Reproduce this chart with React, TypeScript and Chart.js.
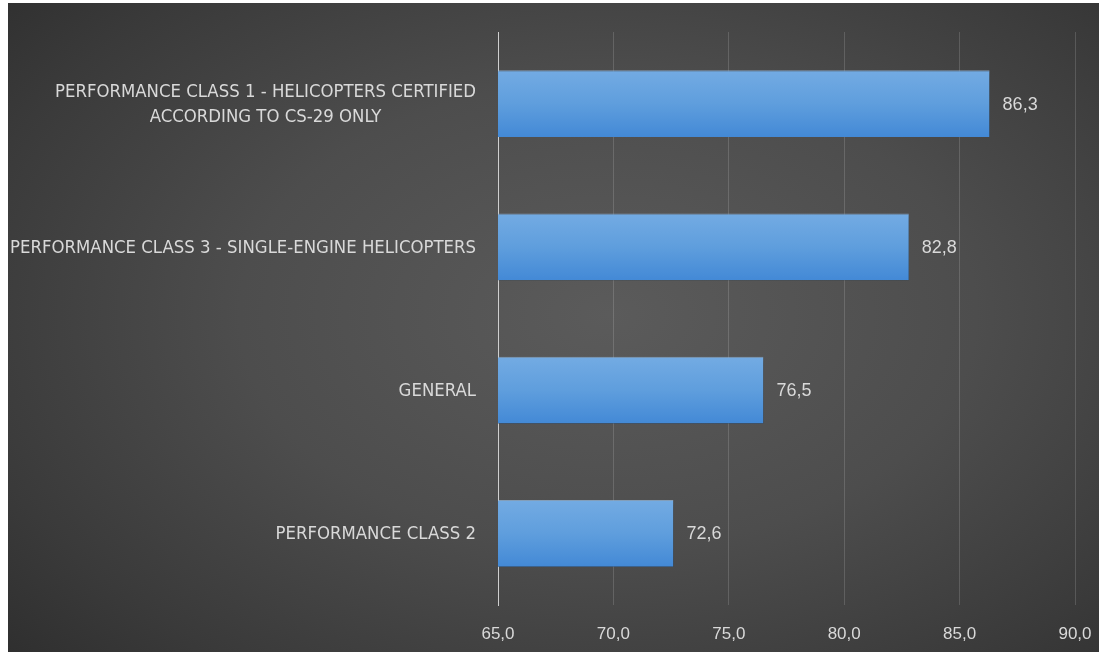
import React, { useEffect, useRef } from "react";
import { Chart, registerables } from "chart.js";

Chart.register(...registerables);

const categories: (string | string[])[] = [
  ["PERFORMANCE CLASS 1 - HELICOPTERS CERTIFIED", "ACCORDING TO CS-29 ONLY"],
  "PERFORMANCE CLASS 3 - SINGLE-ENGINE HELICOPTERS",
  "GENERAL",
  "PERFORMANCE CLASS 2",
];
const values = [86.3, 82.8, 76.5, 72.6];
const xMin = 65;
const xMax = 90;
const xStep = 5;

const FONT = '"Liberation Sans Narrow", "DejaVu Sans Condensed", "Roboto", sans-serif';
const NUMFONT = '"Liberation Sans", Arial, sans-serif';
const TEXT = "#d9d9d9";

const fmt = (v: number) => v.toFixed(1).replace(".", ",");

const shadowPlugin = {
  id: "barShadow",
  beforeDatasetsDraw(chart: any) {
    const ctx = chart.ctx;
    ctx.save();
    ctx.shadowColor = "rgba(0,0,0,0.55)";
    ctx.shadowBlur = 5;
    ctx.shadowOffsetX = 2;
    ctx.shadowOffsetY = 3;
  },
  afterDatasetsDraw(chart: any) {
    chart.ctx.restore();
  },
};

const labelsPlugin = {
  id: "customLabels",
  afterDatasetsDraw(chart: any) {
    const ctx = chart.ctx;
    const meta = chart.getDatasetMeta(0);
    const yScale = chart.scales.y;
    ctx.save();
    ctx.fillStyle = TEXT;
    ctx.textBaseline = "middle";
    // value labels
    ctx.font = `18px ${NUMFONT}`;
    ctx.textAlign = "left";
    meta.data.forEach((el: any, i: number) => {
      ctx.fillText(fmt(values[i]), el.x + 13, el.y + 1);
    });
    // category labels
    ctx.font = `18.4px ${FONT}`;
    const rightX = chart.chartArea.left - 22;
    const lineH = 25;
    categories.forEach((cat, i) => {
      const yc = yScale.getPixelForValue(i);
      const lines = Array.isArray(cat) ? cat : [cat];
      const widths = lines.map((l) => ctx.measureText(l).width);
      const blockW = Math.max(...widths);
      const cx = rightX - blockW / 2;
      ctx.textAlign = "center";
      lines.forEach((l, j) => {
        const y = yc + 1 + (j - (lines.length - 1) / 2) * lineH;
        ctx.fillText(l, cx, y);
      });
    });
    ctx.restore();
  },
};

export default function App() {
  const ref = useRef<HTMLCanvasElement>(null);
  useEffect(() => {
    if (!ref.current) return;
    const chart = new Chart(ref.current, {
      type: "bar",
      data: {
        labels: categories.map((c) => (Array.isArray(c) ? c.join(" ") : c)),
        datasets: [
          {
            data: values,
            backgroundColor: (c: any) => {
              const ch = c.chart;
              const ys = ch.scales?.y;
              const area = ch.chartArea;
              if (!ys || !area) return "#5b9bd5";
              const band = (area.bottom - area.top) / categories.length;
              const h = band * 0.467;
              const yc = ys.getPixelForValue(c.dataIndex);
              const g = ch.ctx.createLinearGradient(0, yc - h / 2, 0, yc + h / 2);
              g.addColorStop(0, "#73abe3");
              g.addColorStop(0.5, "#5f9edd");
              g.addColorStop(1, "#4389d6");
              return g;
            },
            borderColor: "rgba(160,200,240,0.7)",
            borderWidth: { top: 1, right: 0, bottom: 0, left: 0 },
            borderSkipped: false,
            barPercentage: 0.467,
            categoryPercentage: 1,
          },
        ],
      },
      options: {
        indexAxis: "y",
        animation: false,
        responsive: true,
        maintainAspectRatio: false,
        layout: { padding: { top: 29, right: 24, left: 0, bottom: 0 } },
        plugins: {
          legend: { display: false },
          tooltip: { enabled: false },
        },
        scales: {
          x: {
            type: "linear",
            min: xMin,
            max: xMax,
            ticks: {
              stepSize: xStep,
              color: TEXT,
              font: { family: NUMFONT, size: 17 },
              padding: 19,
              callback: (v: any) => fmt(Number(v)),
            },
            grid: {
              color: "rgba(255,255,255,0.15)",
              lineWidth: 1,
              drawTicks: false,
            },
            border: { display: false },
            afterFit: (s: any) => {
              s.height = 47;
              s.paddingLeft = 0;
              s.paddingRight = 0;
            },
          },
          y: {
            ticks: { display: false },
            grid: { display: false },
            border: { display: true, color: "#cfcfcf", width: 1 },
            afterFit: (s: any) => {
              s.width = 490;
              s.paddingTop = 0;
              s.paddingBottom = 0;
            },
          },
        },
      },
      plugins: [shadowPlugin, labelsPlugin],
    } as any);
    return () => chart.destroy();
  }, []);

  return (
    <div
      style={{
        position: "absolute",
        left: 8,
        top: 3,
        width: 1091,
        height: 649,
        background:
          "radial-gradient(ellipse 75% 80% at 55% 48%, #5b5b5b 0%, #4d4d4d 45%, #3a3a3a 80%, #2e2e2e 100%)",
      }}
    >
      <canvas ref={ref} />
    </div>
  );
}
